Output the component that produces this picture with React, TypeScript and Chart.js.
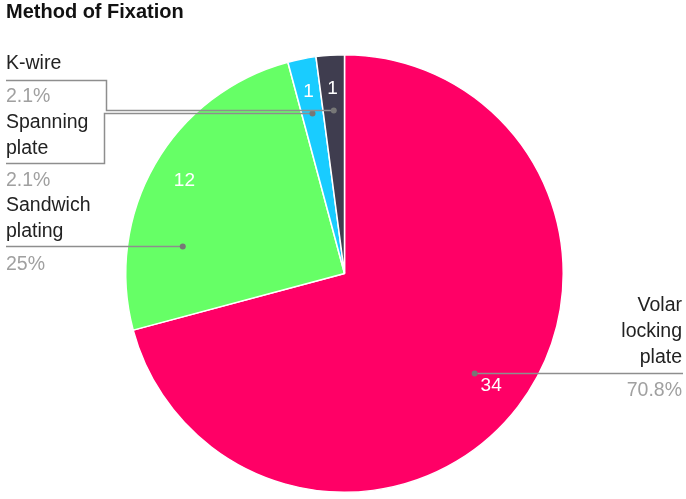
import React, { useEffect, useRef } from "react";
import { Chart, registerables } from "chart.js";

Chart.register(...registerables);

const title = "Method of Fixation";
const categories = ["Volar locking plate", "Sandwich plating", "Spanning plate", "K-wire"];
const counts = [34, 12, 1, 1];
const percentLabels = ["70.8%", "25%", "2.1%", "2.1%"];
const colors = ["#FF0066", "#66FF66", "#19CCFF", "#3F3D4F"];

const FONT = "'Liberation Sans', Arial, Helvetica, sans-serif";

type LabelLayout = {
  lines: string[];
  side: "left" | "right";
  textX: number;
  firstLineY: number;
  lineGap: number;
  pctY: number;
  leaderY?: number;
  elbowX?: number;
  endY?: number;
};

const layouts: LabelLayout[] = [
  { lines: ["Volar", "locking", "plate"], side: "right", textX: 682, firstLineY: 306, lineGap: 26, pctY: 391 },
  { lines: ["Sandwich", "plating"], side: "left", textX: 6, firstLineY: 206, lineGap: 26, pctY: 265, leaderY: 246 },
  { lines: ["Spanning", "plate"], side: "left", textX: 6, firstLineY: 123, lineGap: 26, pctY: 181, elbowX: 104.5, endY: 163 },
  { lines: ["K-wire"], side: "left", textX: 6, firstLineY: 64, lineGap: 26, pctY: 97, elbowX: 106.5, endY: 80 },
];

const labelPlugin = {
  id: "pieLabels",
  afterDraw(chart: any) {
    const ctx = chart.ctx as CanvasRenderingContext2D;
    const meta = chart.getDatasetMeta(0);
    ctx.save();
    ctx.fillStyle = "#111";
    ctx.font = `bold 20px ${FONT}`;
    ctx.textAlign = "left";
    ctx.textBaseline = "alphabetic";
    ctx.fillText(title, 6, 18);

    meta.data.forEach((arc: any, i: number) => {
      const { x, y, startAngle, endAngle, outerRadius } = arc.getProps(
        ["x", "y", "startAngle", "endAngle", "outerRadius"],
        true
      );
      const mid = (startAngle + endAngle) / 2;
      const vr = outerRadius * 0.845;
      const vx = x + Math.cos(mid) * vr;
      const vy = y + Math.sin(mid) * vr;
      ctx.fillStyle = "#fff";
      ctx.font = `19px ${FONT}`;
      ctx.textAlign = "center";
      ctx.textBaseline = "middle";
      ctx.fillText(String(counts[i]), vx, vy);

      const L = layouts[i];
      const dr = outerRadius * 0.75;
      let dx = x + Math.cos(mid) * dr;
      let dy = y + Math.sin(mid) * dr;
      if (L.leaderY !== undefined) {
        const off = L.leaderY - y;
        const h = Math.sqrt(dr * dr - off * off);
        dx = Math.cos(mid) < 0 ? x - h : x + h;
        dy = L.leaderY;
      }
      const ly = Math.round(dy) + 0.5;
      ctx.strokeStyle = "#8e8e8e";
      ctx.lineWidth = 1.5;
      ctx.beginPath();
      if (L.side === "right") {
        ctx.moveTo(dx, ly);
        ctx.lineTo(683, ly);
      } else if (L.elbowX !== undefined && L.endY !== undefined) {
        ctx.moveTo(dx, ly);
        ctx.lineTo(L.elbowX, ly);
        ctx.lineTo(L.elbowX, L.endY + 0.5);
        ctx.lineTo(6, L.endY + 0.5);
      } else {
        ctx.moveTo(dx, ly);
        ctx.lineTo(6, ly);
      }
      ctx.stroke();
      ctx.fillStyle = "#777";
      ctx.beginPath();
      ctx.arc(dx, ly, 3, 0, Math.PI * 2);
      ctx.fill();

      ctx.fillStyle = "#222";
      ctx.font = `19.5px ${FONT}`;
      ctx.textAlign = L.side === "right" ? "right" : "left";
      ctx.textBaseline = "middle";
      L.lines.forEach((ln, k) => ctx.fillText(ln, L.textX, L.firstLineY + k * L.lineGap));
      ctx.fillStyle = "#a0a0a0";
      ctx.fillText(percentLabels[i], L.textX, L.pctY);
    });
    ctx.restore();
  },
};

export default function App() {
  const ref = useRef<HTMLCanvasElement | null>(null);
  useEffect(() => {
    document.body.style.margin = "0";
    const chart = new Chart(ref.current as HTMLCanvasElement, {
      type: "pie",
      data: {
        labels: categories,
        datasets: [
          {
            data: counts,
            backgroundColor: colors,
            borderColor: "#ffffff",
            borderWidth: 1.5,
          },
        ],
      },
      options: {
        animation: false,
        responsive: false,
        maintainAspectRatio: false,
        layout: { padding: { left: 125, right: 122, top: 54, bottom: 6 } },
        plugins: {
          legend: { display: false },
          tooltip: { enabled: false },
          title: { display: false },
        },
      },
      plugins: [labelPlugin],
    });
    return () => chart.destroy();
  }, []);
  return (
    <div style={{ position: "fixed", left: 0, top: 0, width: 686, height: 499, background: "#fff" }}>
      <canvas ref={ref} width={686} height={499} style={{ width: 686, height: 499 }} />
    </div>
  );
}
